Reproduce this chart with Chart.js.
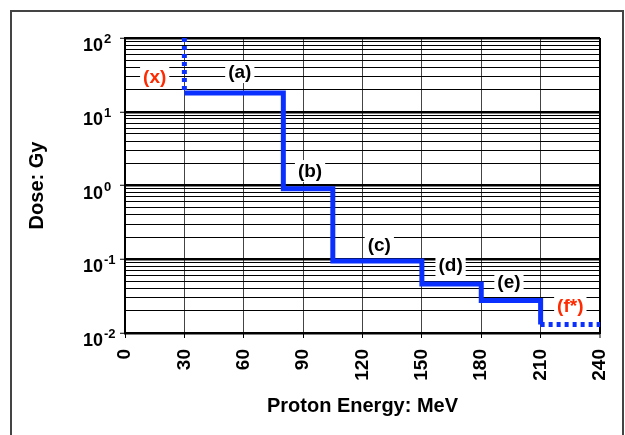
<!DOCTYPE html>
<html>
<head>
<meta charset="utf-8">
<script src="https://cdn.jsdelivr.net/npm/chart.js@4/dist/chart.umd.min.js"></script>
<style>
  html,body{margin:0;padding:0;background:#fff;}
  #wrap{width:625px;height:435px;position:relative;}
</style>
</head>
<body>
<div id="wrap"><canvas id="c" width="625" height="435"></canvas></div>
<script>
// ---- data ----
const energy = [30, 30, 80, 105, 150, 180, 210, 240];          // MeV
const dose   = [100, 18, 0.9, 0.095, 0.046, 0.0275, 0.013, 0.013]; // Gy
const dottedSegments = [0, 6];   // segment indexes drawn dotted

const xTicks = [0, 30, 60, 90, 120, 150, 180, 210, 240];
const yDecades = [0.01, 0.1, 1, 10, 100];
const yDecadeExp = ['-2', '-1', '0', '1', '2'];
const yMinorMult = [2, 3, 4, 5, 6, 7, 8, 9];

const labelTexts  = ['(x)', '(a)', '(b)', '(c)', '(d)', '(e)', '(f*)'];
const labelEnergy = [15, 58, 93.5, 128.5, 164.5, 194, 225];
const labelDose   = [29.6, 34.6, 1.57, 0.156, 0.0836, 0.0492, 0.0232];
const labelRed    = [true, false, false, false, false, false, true];

const BLUE = '#0a30ff';
const RED = '#ff2a00';
const FONT = '"Liberation Sans", Arial, sans-serif';

const pts = energy.map((e, i) => ({x: e, y: dose[i]}));

const isDecade = v => Math.abs(Math.log10(v) - Math.round(Math.log10(v))) < 1e-9;

const framePlugin = {
  id: 'frame',
  beforeDraw(chart) {
    const ctx = chart.ctx;
    ctx.save();
    ctx.fillStyle = '#fff';
    ctx.fillRect(0, 0, chart.width, chart.height);
    ctx.strokeStyle = '#444';
    ctx.lineWidth = 2;
    ctx.beginPath();
    ctx.moveTo(11, chart.height + 5);
    ctx.lineTo(11, 11);
    ctx.lineTo(623, 11);
    ctx.lineTo(623, chart.height + 5);
    ctx.stroke();
    ctx.restore();
  }
};

const annotPlugin = {
  id: 'annot',
  afterDraw(chart) {
    const ctx = chart.ctx;
    const xs = chart.scales.x, ys = chart.scales.y;
    ctx.save();
    // y tick labels with superscripts
    yDecades.forEach((v, i) => {
      const py = ys.getPixelForValue(v);
      const right = xs.left - 22;
      ctx.fillStyle = '#000';
      ctx.font = 'bold 18px ' + FONT;
      ctx.textAlign = 'right';
      ctx.textBaseline = 'alphabetic';
      ctx.fillText('10', right, py + 13);
      ctx.font = 'bold 13px ' + FONT;
      ctx.textAlign = 'left';
      ctx.fillText(yDecadeExp[i], right + 1, py + 5);
    });
    // curve labels
    ctx.font = 'bold 19px ' + FONT;
    ctx.textAlign = 'center';
    ctx.textBaseline = 'middle';
    labelTexts.forEach((t, i) => {
      const px = xs.getPixelForValue(labelEnergy[i]);
      const py = ys.getPixelForValue(labelDose[i]);
      const w = ctx.measureText(t).width;
      ctx.fillStyle = '#fff';
      ctx.fillRect(px - w / 2 - 3, py - 11, w + 6, 22);
      ctx.fillStyle = labelRed[i] ? RED : '#000';
      ctx.fillText(t, px, py + 1);
    });
    ctx.restore();
  }
};

new Chart(document.getElementById('c'), {
  type: 'line',
  data: {
    datasets: [{
      data: pts,
      borderColor: BLUE,
      borderWidth: 5,
      pointRadius: 0,
      stepped: 'before',
      fill: false,
      borderCapStyle: 'butt',
      borderJoinStyle: 'miter',
      segment: {
        borderDash: c => dottedSegments.includes(c.p0DataIndex) ? [4, 4] : undefined
      }
    }]
  },
  options: {
    responsive: false,
    animation: false,
    devicePixelRatio: 1,
    layout: {padding: {left: 0, top: 38, right: 25, bottom: 0}},
    plugins: {legend: {display: false}, tooltip: {enabled: false}},
    scales: {
      x: {
        type: 'linear',
        min: 0, max: 240,
        afterBuildTicks: s => { s.ticks = xTicks.map(v => ({value: v})); },
        afterFit: s => { s.height = 102; s.paddingLeft = 0; s.paddingRight = 0; },
        ticks: {
          autoSkip: false,
          minRotation: 90, maxRotation: 90,
          padding: 11,
          color: '#000',
          font: {family: FONT, size: 19, weight: 'bold'}
        },
        grid: {
          color: c => (c.tick && c.tick.value === 240) ? '#000' : '#444',
          lineWidth: c => (c.tick && c.tick.value === 240) ? 2 : 1,
          tickLength: 5,
          tickColor: '#000',
          tickWidth: 1
        },
        border: {color: '#000', width: 2},
        title: {
          display: true,
          text: 'Proton Energy: MeV',
          color: '#000',
          font: {family: FONT, size: 20, weight: 'bold'},
          padding: {top: 0, bottom: 17}
        }
      },
      y: {
        type: 'logarithmic',
        min: 0.01, max: 100,
        afterBuildTicks: s => {
          const t = [];
          yDecades.forEach(d => {
            t.push({value: d, major: true});
            if (d < 100) yMinorMult.forEach(m => t.push({value: d * m}));
          });
          s.ticks = t;
        },
        afterFit: s => { s.width = 125; s.paddingTop = 0; s.paddingBottom = 0; },
        ticks: {display: false, autoSkip: false},
        grid: {
          color: '#000',
          lineWidth: c => (c.tick && isDecade(c.tick.value)) ? 2.5 : 1,
          tickLength: 5,
          tickColor: c => (c.tick && isDecade(c.tick.value)) ? '#000' : 'rgba(0,0,0,0)',
          tickWidth: 1
        },
        border: {color: '#000', width: 2},
        title: {
          display: true,
          text: 'Dose: Gy',
          color: '#000',
          font: {family: FONT, size: 20, weight: 'bold'},
          padding: {top: 25, bottom: 0}
        }
      }
    }
  },
  plugins: [framePlugin, annotPlugin]
});
</script>
</body>
</html>
